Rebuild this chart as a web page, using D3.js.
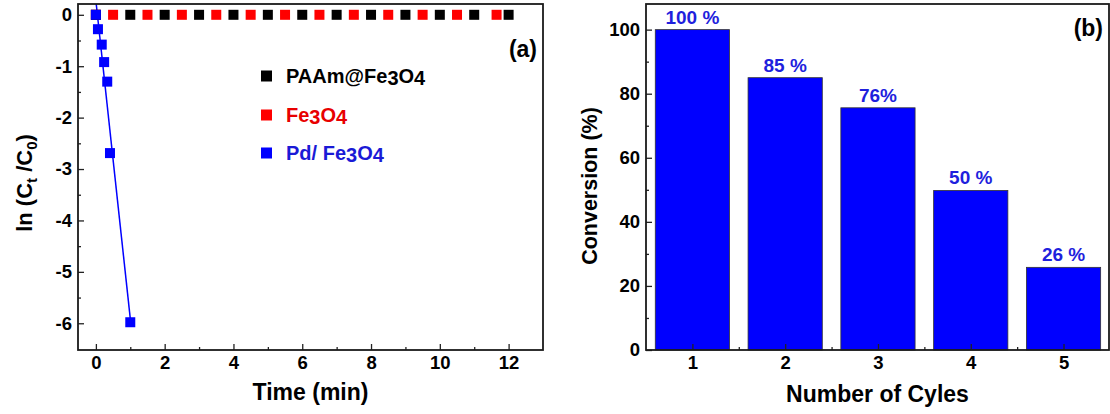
<!DOCTYPE html>
<html><head><meta charset="utf-8">
<script src="https://cdn.jsdelivr.net/npm/d3@7"></script>
<style>
body{margin:0;background:#fff}
svg{display:block}
text{font-family:"Liberation Sans",Arial,sans-serif;font-weight:bold}
</style>
</head><body><svg id="c" width="1110" height="414"></svg>
<script>
// ---------- DATA ----------
const pdTime   = [0, 0.06, 0.17, 0.24, 0.33, 0.41, 1.0];
const pdLn     = [0, -0.28, -0.58, -0.92, -1.30, -2.69, -5.98];
const feTime   = [0, 0.5, 1.5, 2.5, 3.5, 4.5, 5.5, 6.5, 7.5, 8.5, 9.5, 10.5, 11.65];
const feLn     = [0, 0, 0, 0, 0, 0, 0, 0, 0, 0, 0, 0, 0];
const paamTime = [0, 1, 2, 3, 4, 5, 6, 7, 8, 9, 10, 11, 12];
const paamLn   = [0, 0, 0, 0, 0, 0, 0, 0, 0, 0, 0, 0, 0];
const xTicksA      = [0, 2, 4, 6, 8, 10, 12];
const xMinorTicksA = [1, 3, 5, 7, 9, 11];
const yTicksA      = [0, -1, -2, -3, -4, -5, -6];
const yMinorTicksA = [-0.5, -1.5, -2.5, -3.5, -4.5, -5.5];
const legendNames  = ["PAAm@Fe3O4", "Fe3O4", "Pd/ Fe3O4"];
const seriesColors = ["#000000", "#ff0000", "#0000ff"];
const legendTextColors = ["#000000", "#e80000", "#1a1ad6"];

const cycles      = [1, 2, 3, 4, 5];
const conversion  = [100, 85, 75.6, 49.8, 25.8];
const barLabels   = ["100 %", "85 %", "76%", "50 %", "26 %"];
const yTicksB      = [0, 20, 40, 60, 80, 100];
const yMinorTicksB = [10, 30, 50, 70, 90];
const xMinorTicksB = [1.5, 2.5, 3.5, 4.5];

// ---------- HELPERS ----------
const svg = d3.select("#c");
svg.append("rect").attr("width",1110).attr("height",414).attr("fill","#fff");

function chemText(sel, str){
  const parts = str.split(/(\d)/).filter(s=>s.length);
  let shifted = false;
  parts.forEach(p=>{
    if(/^\d$/.test(p)){ sel.append("tspan").attr("dy", shifted ? 0 : 2).text(p); shifted = true; }
    else { sel.append("tspan").attr("dy", shifted ? -2 : 0).text(p); shifted = false; }
  });
}

function axes(g, x, y, h, xT, xM, yT, yM, fmtX, fmtY){
  const ax = g.append("g").attr("transform",`translate(0,${h})`)
    .call(d3.axisBottom(x).tickValues(xT).tickSize(-6).tickPadding(6).tickFormat(fmtX));
  const axm = g.append("g").attr("transform",`translate(0,${h})`)
    .call(d3.axisBottom(x).tickValues(xM).tickSize(-3).tickFormat(""));
  const ay = g.append("g")
    .call(d3.axisLeft(y).tickValues(yT).tickSize(-6).tickPadding(6).tickFormat(fmtY));
  const aym = g.append("g")
    .call(d3.axisLeft(y).tickValues(yM).tickSize(-3).tickFormat(""));
  [ax,axm,ay,aym].forEach(a=>{
    a.select(".domain").remove();
    a.selectAll("line").attr("stroke","#222").attr("stroke-width",1.3);
    a.selectAll("text").attr("font-size",18.5).attr("fill","#000")
      .attr("font-family",'"Liberation Sans",Arial,sans-serif').attr("font-weight","bold");
  });
}
const intFmt = d => String(d);

// ---------- PANEL A ----------
const A = {l:78, t:4, r:543, b:350};
const wA = A.r-A.l, hA = A.b-A.t;
const gA = svg.append("g").attr("transform",`translate(${A.l},${A.t})`);
const xA = d3.scaleLinear().domain([-0.52, 13]).range([0,wA]);
const yA = d3.scaleLinear().domain([-6.52, 0.21]).range([hA,0]);

gA.append("clipPath").attr("id","clipA").append("rect").attr("width",wA).attr("height",hA);

axes(gA, xA, yA, hA, xTicksA, xMinorTicksA, yTicksA, yMinorTicksA, intFmt, intFmt);

// linear fit of Pd/Fe3O4 data
const mx = d3.mean(pdTime), my = d3.mean(pdLn);
const sxy = d3.sum(pdTime.map((t,i)=>(t-mx)*(pdLn[i]-my)));
const sxx = d3.sum(pdTime.map(t=>(t-mx)*(t-mx)));
const slope = sxy/sxx, icpt = my - slope*mx;
const fitX = [d3.min(pdTime), d3.max(pdTime)];
gA.append("path").attr("clip-path","url(#clipA)")
  .datum(fitX)
  .attr("d", d3.line().x(d=>xA(d)).y(d=>yA(icpt+slope*d)))
  .attr("fill","none").attr("stroke","#0000ff").attr("stroke-width",1.5);

const ms = 10;
function squares(times, vals, color){
  gA.append("g").selectAll("rect").data(times.map((t,i)=>[t,vals[i]])).join("rect")
    .attr("x",d=>xA(d[0])-ms/2).attr("y",d=>yA(d[1])-ms/2)
    .attr("width",ms).attr("height",ms).attr("fill",color);
}
squares(feTime, feLn, seriesColors[1]);
squares(paamTime, paamLn, seriesColors[0]);
squares(pdTime, pdLn, seriesColors[2]);

gA.append("rect").attr("width",wA).attr("height",hA).attr("fill","none")
  .attr("stroke","#1a1a1a").attr("stroke-width",1.8);

// legend
const legY = [76, 115, 153];
legendNames.forEach((name,i)=>{
  svg.append("rect").attr("x",261).attr("y",legY[i]-5.5).attr("width",11).attr("height",11)
    .attr("fill",seriesColors[i]);
  const t = svg.append("text").attr("x",286).attr("y",legY[i]+7).attr("font-size",20)
    .attr("fill",legendTextColors[i]);
  chemText(t, name);
});

svg.append("text").attr("x",537).attr("y",57).attr("text-anchor","end")
  .attr("font-size",23).text("(a)");

svg.append("text").attr("x",(A.l+A.r)/2).attr("y",400).attr("text-anchor","middle")
  .attr("font-size",23).text("Time (min)");
const ylA = svg.append("text").attr("transform","translate(32,183) rotate(-90)")
  .attr("text-anchor","middle").attr("font-size",22);
ylA.append("tspan").text("ln (C");
ylA.append("tspan").attr("dy",5).attr("font-size",15).text("t");
ylA.append("tspan").attr("dy",-5).text(" /C");
ylA.append("tspan").attr("dy",5).attr("font-size",15).text("0");
ylA.append("tspan").attr("dy",-5).text(")");

// ---------- PANEL B ----------
const B = {l:646, t:4, r:1109, b:350};
const wB = B.r-B.l, hB = B.b-B.t;
const gB = svg.append("g").attr("transform",`translate(${B.l},${B.t})`);
const xB = d3.scaleLinear().domain([0.5, 5.49]).range([0,wB]);
const yB = d3.scaleLinear().domain([0, 108]).range([hB,0]);
const bw = xB(1.4)-xB(0.6);

gB.append("g").selectAll("rect").data(cycles.map((c,i)=>[c,conversion[i]])).join("rect")
  .attr("x",d=>xB(d[0])-bw/2).attr("y",d=>yB(d[1]))
  .attr("width",bw).attr("height",d=>hB-yB(d[1]))
  .attr("fill","#0000ff").attr("stroke","#333").attr("stroke-width",0.8);

gB.append("g").selectAll("text").data(cycles.map((c,i)=>[c,conversion[i],barLabels[i]])).join("text")
  .attr("x",d=>xB(d[0])).attr("y",d=>yB(d[1])-6).attr("text-anchor","middle")
  .attr("font-size",19).attr("fill","#1f1fdd").text(d=>d[2]);

axes(gB, xB, yB, hB, cycles, xMinorTicksB, yTicksB, yMinorTicksB, intFmt, intFmt);

gB.append("rect").attr("width",wB).attr("height",hB).attr("fill","none")
  .attr("stroke","#1a1a1a").attr("stroke-width",1.8);

svg.append("text").attr("x",1103).attr("y",36).attr("text-anchor","end")
  .attr("font-size",23).text("(b)");

svg.append("text").attr("x",(B.l+B.r)/2).attr("y",402).attr("text-anchor","middle")
  .attr("font-size",23).text("Number of Cyles");
svg.append("text").attr("transform","translate(597,186) rotate(-90)")
  .attr("text-anchor","middle").attr("font-size",21.5).text("Conversion (%)");
</script></body></html>
